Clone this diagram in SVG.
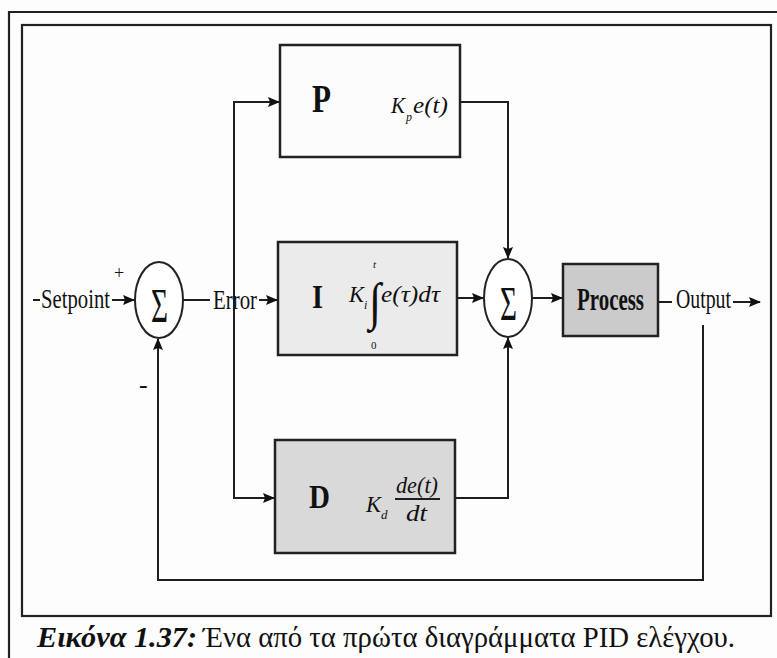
<svg xmlns="http://www.w3.org/2000/svg" width="777" height="658" viewBox="0 0 777 658">
<style>
.ln{fill:none;stroke:#1e1e1e;stroke-width:2}
.fr{fill:none;stroke:#222;stroke-width:2.2}
.box{stroke:#222;stroke-width:2.5}
.sum{fill:#fff;stroke:#222;stroke-width:2}
.t{font-family:"Liberation Serif","DejaVu Serif",serif;fill:#111}
.it{font-style:italic}
.b{font-weight:bold}
</style>
<defs>
<marker id="ah" markerUnits="userSpaceOnUse" markerWidth="12" markerHeight="10" refX="11" refY="5" orient="auto">
<path d="M0,0 L12,5 L0,10 L2,5 z" fill="#111"/>
</marker>
</defs>
<rect width="777" height="658" fill="#fdfdfd"/>
<g id="frame">
<path class="fr" d="M9,658 V12 H777"/>
<rect class="fr" x="22" y="25" width="749" height="591"/>
</g>
<g id="connectors">
<line class="ln" x1="33" y1="300" x2="40" y2="300"/>
<line class="ln" x1="112" y1="300" x2="134" y2="300" marker-end="url(#ah)"/>
<line class="ln" x1="183" y1="300" x2="210" y2="300"/>
<line class="ln" x1="259" y1="300" x2="277" y2="300" marker-end="url(#ah)"/>
<path class="ln" d="M234,300 V102 H279" marker-end="url(#ah)"/>
<path class="ln" d="M234,300 V498 H274" marker-end="url(#ah)"/>
<line class="ln" x1="457" y1="298" x2="483" y2="298" marker-end="url(#ah)"/>
<path class="ln" d="M460,102 H508 V258" marker-end="url(#ah)"/>
<path class="ln" d="M455,498 H508 V338" marker-end="url(#ah)"/>
<line class="ln" x1="532" y1="298" x2="562" y2="298" marker-end="url(#ah)"/>
<line class="ln" x1="658" y1="302" x2="672" y2="302"/>
<line class="ln" x1="733" y1="302" x2="760" y2="302" marker-end="url(#ah)"/>
<path class="ln" d="M703,325 V580 H158 V339" marker-end="url(#ah)"/>
</g>
<g id="sum1">
<ellipse class="sum" cx="159" cy="300" rx="24" ry="38"/>
<text class="t" x="151" y="322" font-size="48" textLength="17" lengthAdjust="spacingAndGlyphs">Σ</text>
</g>
<g id="sum2">
<ellipse class="sum" cx="508" cy="298" rx="24" ry="39"/>
<text class="t" x="500" y="320" font-size="48" textLength="17" lengthAdjust="spacingAndGlyphs">Σ</text>
</g>
<g id="labels">
<text class="t" x="41" y="308" font-size="28" textLength="69" lengthAdjust="spacingAndGlyphs">Setpoint</text>
<text class="t" x="114" y="279" font-size="18">+</text>
<text class="t" x="139" y="393" font-size="26">-</text>
<text class="t" x="213" y="309" font-size="28" textLength="44" lengthAdjust="spacingAndGlyphs">Error</text>
<text class="t" x="676" y="308" font-size="28" textLength="55" lengthAdjust="spacingAndGlyphs">Output</text>
</g>
<g id="boxP">
<rect class="box" x="280" y="45" width="180" height="112" fill="#fcfcfc"/>
<text class="t b" x="312" y="112" font-size="40" textLength="19" lengthAdjust="spacingAndGlyphs">P</text>
<text class="t it" x="391" y="113" font-size="24" textLength="14" lengthAdjust="spacingAndGlyphs">K</text>
<text class="t it" x="406" y="121" font-size="12">p</text>
<text class="t it" x="413" y="113" font-size="24" textLength="35" lengthAdjust="spacingAndGlyphs">e(t)</text>
</g>
<g id="boxI">
<rect class="box" x="278" y="242" width="179" height="113" fill="#ebebeb"/>
<text class="t b" x="312" y="308" font-size="34" textLength="11" lengthAdjust="spacingAndGlyphs">I</text>
<text class="t it" x="349" y="302" font-size="24" textLength="15" lengthAdjust="spacingAndGlyphs">K</text>
<text class="t it" x="364" y="309" font-size="12">i</text>
<text class="t" x="369" y="319" font-size="52" textLength="12" lengthAdjust="spacingAndGlyphs">∫</text>
<text class="t it" x="373" y="268" font-size="11">t</text>
<text class="t" x="371" y="349" font-size="11">0</text>
<text class="t it" x="381" y="302" font-size="24" textLength="59" lengthAdjust="spacingAndGlyphs">e(τ)dτ</text>
</g>
<g id="boxD">
<rect class="box" x="275" y="440" width="180" height="113" fill="#d9d9d9"/>
<text class="t b" x="309" y="508" font-size="34" textLength="21" lengthAdjust="spacingAndGlyphs">D</text>
<text class="t it" x="366" y="512" font-size="24" textLength="15" lengthAdjust="spacingAndGlyphs">K</text>
<text class="t it" x="381" y="519" font-size="13">d</text>
<text class="t it" x="396" y="493" font-size="23" textLength="42" lengthAdjust="spacingAndGlyphs">de(t)</text>
<line class="ln" x1="395" y1="499" x2="440" y2="499" stroke-width="1.6"/>
<text class="t it" x="406" y="521" font-size="23" textLength="21" lengthAdjust="spacingAndGlyphs">dt</text>
</g>
<g id="process">
<rect class="box" x="563" y="264" width="95" height="72" fill="#cbcbcb"/>
<text class="t b" x="577" y="310" font-size="31" textLength="67" lengthAdjust="spacingAndGlyphs">Process</text>
</g>
<g id="caption">
<text class="t b it" x="37" y="647" font-size="29" textLength="160" lengthAdjust="spacingAndGlyphs">Εικόνα 1.37:</text>
<text class="t" x="203" y="647" font-size="29" textLength="532" lengthAdjust="spacingAndGlyphs">Ένα από τα πρώτα διαγράμματα PID ελέγχου.</text>
</g>
</svg>
